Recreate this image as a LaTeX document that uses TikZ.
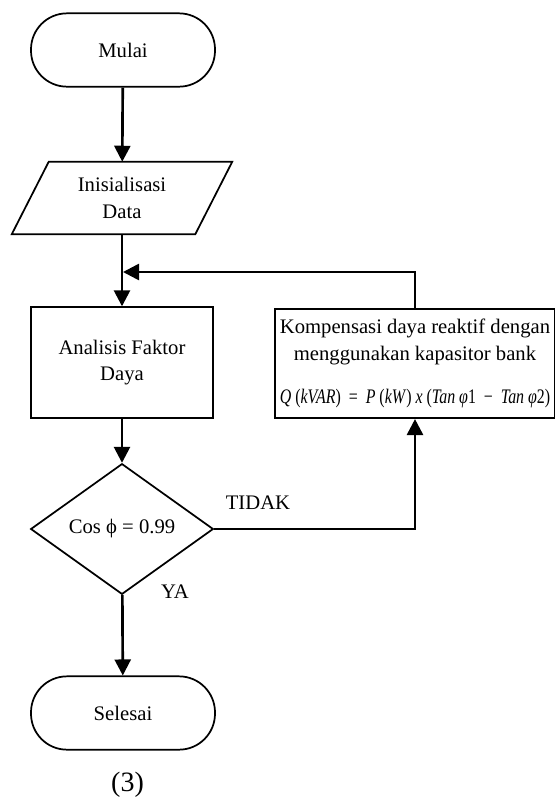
\documentclass[tikz,border=0pt]{standalone}
\usepackage{fontspec}
\setmainfont{Liberation Serif}
\usepackage{tikz}
\usetikzlibrary{shapes,arrows,positioning,calc,arrows.meta}

\begin{document}
\begin{tikzpicture}[
    x=0.75pt, y=-0.75pt,
    every node/.style={font=\fontsize{15.5}{20}\selectfont},
    terminal/.style={rectangle, rounded corners=27pt, draw, line width=1.3pt, minimum width=138pt, minimum height=55pt},
    io/.style={rectangle, minimum width=165pt, minimum height=54pt, align=center},
    process/.style={rectangle, draw, line width=1.3pt, minimum width=136.5pt, minimum height=83pt, align=center},
    decision/.style={diamond, draw, line width=1.3pt, minimum width=137pt, minimum height=98pt, inner sep=0pt},
    line/.style={draw, line width=2pt, -{Triangle[width=12pt, length=12pt]}}
]
    \useasboundingbox (0,0) rectangle (555,804);

    \node[terminal] (mulai) at (123,50) {Mulai};
    \node[io] (data) at (122,198) {Inisialisasi\\Data};
    \draw[line width=1.3pt] ($(data.north west)+(37,0)$) -- (data.north east)
        -- ($(data.south east)-(37,0)$) -- (data.south west) -- cycle;
    \node[process] (analisis) at (122,362.5) {Analisis Faktor\\Daya};
    \node[decision] (cek) at (122,529) {Cos ϕ = 0.99};
    \node[terminal] (selesai) at (123,713) {Selesai};
    \node[process, minimum width=210pt, minimum height=82pt] (komp) at (415,363.5)
        {Kompensasi daya reaktif dengan\\menggunakan kapasitor bank\\[12pt]
        \scalebox{0.77}[1]{\textit{Q} (\textit{kVAR}) \ = \ \textit{P} (\textit{kW}) \textit{x} (\textit{Tan φ}1 \ − \ \textit{Tan φ}2)}};

    \node (tidak) at (258,503) {TIDAK};
    \node (ya) at (175,592) {YA};
    \node[font=\fontsize{21}{24}\selectfont] (nomor) at (127.5,785) {(3)};

    \coordinate (masuk) at (123,272);

    \draw[line] (mulai) -- (data);
    \draw[line] (data) -- (analisis);
    \draw[line] (analisis) -- (cek);
    \draw[line] (cek) -- (selesai);
    \draw[line] (cek.east) -| (komp.south);
    \draw[line] (komp.north) |- (masuk);
\end{tikzpicture}
\end{document}
